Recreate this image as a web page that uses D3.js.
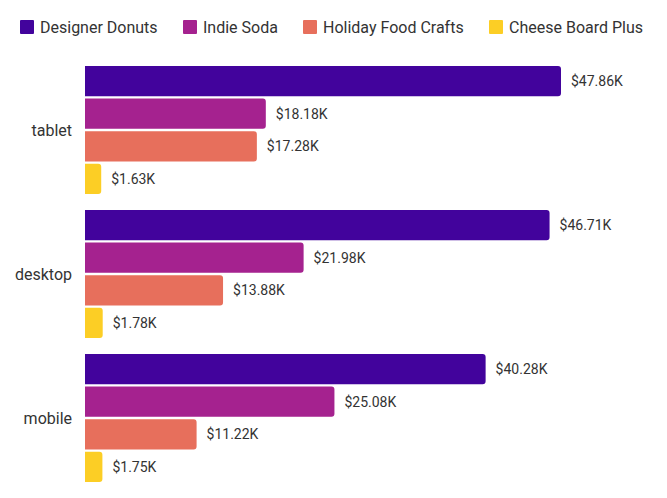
<!DOCTYPE html>
<html>
<head>
<meta charset="utf-8">
<script src="https://cdn.jsdelivr.net/npm/d3@7"></script>
<style>
  body { margin: 0; background: #fff; font-family: Roboto, sans-serif; }
</style>
</head>
<body>
<script>
var devices = ["tablet", "desktop", "mobile"];
var series = ["Designer Donuts", "Indie Soda", "Holiday Food Crafts", "Cheese Board Plus"];
var colors = ["#42039C", "#A5228F", "#E76F5C", "#FCCE25"];
// values in thousands, per device in the order of series
var tabletValues = [47.86, 18.18, 17.28, 1.63];
var desktopValues = [46.71, 21.98, 13.88, 1.78];
var mobileValues = [40.28, 25.08, 11.22, 1.75];

var valuesByDevice = { tablet: tabletValues, desktop: desktopValues, mobile: mobileValues };

var width = 667, height = 498;

var svg = d3.select("body").append("svg")
    .attr("width", width)
    .attr("height", height);

var x = d3.scaleLinear().domain([0, 47.86]).range([85, 561]);
var y0 = d3.scaleBand().domain(devices).range([66, 482]).paddingInner(0.111).paddingOuter(0);
var y1 = d3.scaleBand().domain(series).range([0, y0.bandwidth()]).paddingInner(0.07);
var color = d3.scaleOrdinal().domain(series).range(colors);

// rounded right end, square left end
function barPath(x0, y, w, h, r) {
  r = Math.min(r, w / 2, h / 2);
  return "M" + x0 + "," + y +
    "H" + (x0 + w - r) +
    "A" + r + "," + r + " 0 0 1 " + (x0 + w) + "," + (y + r) +
    "V" + (y + h - r) +
    "A" + r + "," + r + " 0 0 1 " + (x0 + w - r) + "," + (y + h) +
    "H" + x0 + "Z";
}

// legend
var legendX = [20, 183, 303, 489];
var legend = svg.append("g").selectAll("g")
    .data(series)
  .enter().append("g")
    .attr("transform", function(d, i) { return "translate(" + legendX[i] + ",20)"; });
legend.append("rect")
    .attr("width", 14).attr("height", 14).attr("rx", 1)
    .attr("fill", function(d) { return color(d); });
legend.append("text")
    .attr("x", 20).attr("y", 7).attr("dy", "0.35em")
    .attr("font-size", 16).attr("fill", "#333")
    .text(function(d) { return d; });

// groups
var groups = svg.append("g").selectAll("g")
    .data(devices)
  .enter().append("g")
    .attr("transform", function(d) { return "translate(0," + y0(d) + ")"; });

groups.append("text")
    .attr("x", 72)
    .attr("y", y0.bandwidth() / 2)
    .attr("dy", "0.35em")
    .attr("text-anchor", "end")
    .attr("font-size", 16)
    .attr("fill", "#333")
    .text(function(d) { return d; });

var bars = groups.selectAll("g.bar")
    .data(function(d) {
      return series.map(function(s, i) { return { key: s, value: valuesByDevice[d][i] }; });
    })
  .enter().append("g").attr("class", "bar");

bars.append("path")
    .attr("d", function(d) {
      return barPath(x(0), y1(d.key), x(d.value) - x(0), y1.bandwidth(), 3);
    })
    .attr("fill", function(d) { return color(d.key); });

bars.append("text")
    .attr("x", function(d) { return x(d.value) + 10; })
    .attr("y", function(d) { return y1(d.key) + y1.bandwidth() / 2; })
    .attr("dy", "0.35em")
    .attr("font-size", 14)
    .attr("fill", "#333")
    .text(function(d) { return "$" + d3.format(".2f")(d.value) + "K"; });
</script>
</body>
</html>
